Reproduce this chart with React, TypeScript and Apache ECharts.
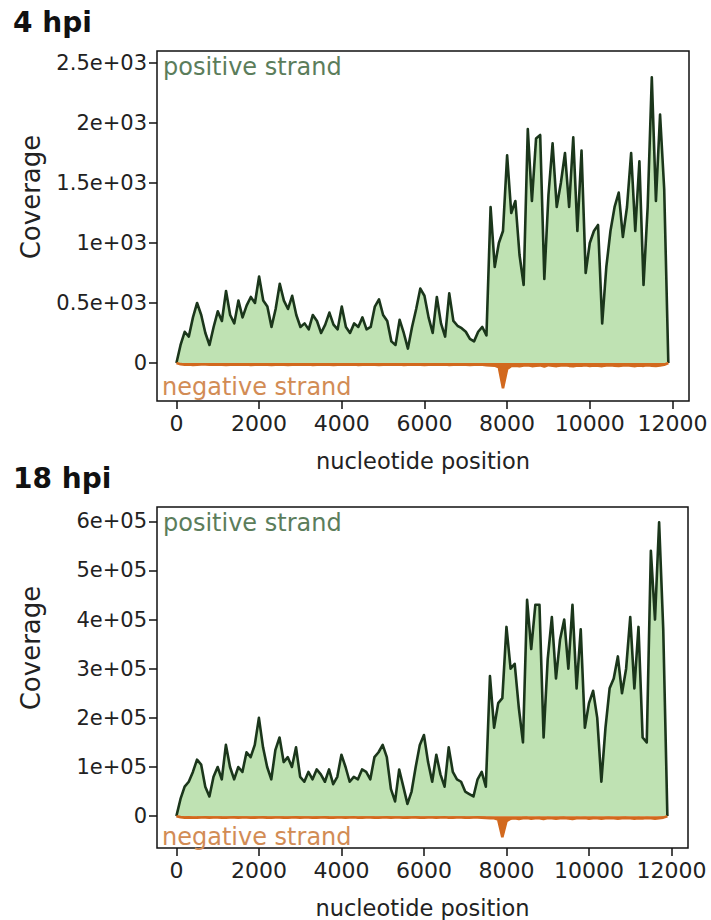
import React, { useEffect, useRef } from "react";
import * as echarts from "echarts";

// nucleotide positions sampled every 100 nt (0 .. 11900)
const STEP = 100;

const X_TICKS = [0, 2000, 4000, 6000, 8000, 10000, 12000];
const Y1_TICKS = [0, 500, 1000, 1500, 2000, 2500];
const Y1_LABELS = ["0", "0.5e+03", "1e+03", "1.5e+03", "2e+03", "2.5e+03"];
const Y2_TICKS = [0, 100000, 200000, 300000, 400000, 500000, 600000];
const Y2_LABELS = ["0", "1e+05", "2e+05", "3e+05", "4e+05", "5e+05", "6e+05"];

// 4 hpi positive strand coverage
const POS_4HPI = [
  0, 150, 260, 220, 380, 500, 400, 250, 150, 300,
  430, 350, 600, 400, 330, 520, 380, 480, 550, 500,
  720, 520, 470, 300, 450, 660, 520, 450, 560, 400,
  300, 330, 280, 400, 350, 250, 320, 420, 320, 280,
  470, 300, 250, 330, 300, 380, 280, 300, 470, 530,
  400, 350, 180, 150, 360, 250, 120, 300, 450, 620,
  560, 380, 250, 550, 330, 220, 580, 350, 310, 290,
  260, 200, 180, 260, 300, 230, 1300, 800, 1000, 1100,
  1730, 1250, 1350, 900, 650, 1950, 1350, 1870, 1900, 700,
  1400, 1830, 1300, 1500, 1750, 1300, 1880, 1100, 1770, 750,
  1000, 1100, 1150, 330, 800, 1100, 1300, 1420, 1050, 1300,
  1750, 1100, 1680, 650, 1300, 2380, 1350, 2070, 1450, 0,
];

// 4 hpi negative strand coverage (plotted below zero)
const NEG_4HPI = [
  0, -10, -14, -12, -16, -15, -13, -12, -15, -14,
  -13, -15, -16, -14, -12, -15, -14, -13, -16, -15,
  -14, -12, -15, -16, -14, -13, -15, -16, -14, -12,
  -15, -14, -13, -16, -15, -14, -12, -15, -16, -14,
  -13, -15, -14, -12, -16, -15, -14, -13, -15, -16,
  -14, -12, -15, -14, -13, -16, -15, -14, -12, -15,
  -16, -14, -13, -15, -14, -12, -16, -15, -14, -13,
  -15, -16, -14, -12, -15, -18, -20, -22, -35, -210,
  -50, -25, -22, -28, -20, -18, -26, -22, -20, -30,
  -18, -22, -26, -20, -18, -24, -28, -20, -22, -18,
  -25, -20, -22, -26, -20, -18, -22, -25, -20, -18,
  -22, -26, -20, -24, -18, -22, -25, -20, -15, 0,
];

// 18 hpi positive strand coverage
const POS_18HPI = [
  0, 35000, 60000, 70000, 90000, 115000, 105000, 60000, 40000, 80000,
  100000, 75000, 145000, 100000, 75000, 100000, 90000, 130000, 120000, 145000,
  200000, 140000, 100000, 75000, 135000, 160000, 110000, 120000, 100000, 140000,
  80000, 70000, 90000, 75000, 95000, 85000, 70000, 95000, 65000, 80000,
  125000, 100000, 70000, 80000, 75000, 95000, 90000, 75000, 120000, 130000,
  145000, 120000, 55000, 30000, 95000, 60000, 25000, 50000, 100000, 145000,
  165000, 110000, 70000, 125000, 85000, 60000, 140000, 90000, 75000, 70000,
  50000, 45000, 40000, 75000, 90000, 60000, 285000, 180000, 230000, 240000,
  385000, 300000, 310000, 220000, 150000, 440000, 340000, 430000, 430000, 160000,
  320000, 405000, 280000, 360000, 400000, 300000, 430000, 260000, 380000, 180000,
  230000, 255000, 200000, 70000, 180000, 260000, 280000, 325000, 250000, 300000,
  405000, 260000, 385000, 160000, 150000, 540000, 400000, 598000, 380000, 0,
];

// 18 hpi negative strand coverage
const NEG_18HPI = [
  0, -2000, -3000, -2500, -3200, -3000, -2600, -2400, -3000, -2800,
  -2600, -3000, -3200, -2800, -2400, -3000, -2800, -2600, -3200, -3000,
  -2800, -2400, -3000, -3200, -2800, -2600, -3000, -3200, -2800, -2400,
  -3000, -2800, -2600, -3200, -3000, -2800, -2400, -3000, -3200, -2800,
  -2600, -3000, -2800, -2400, -3200, -3000, -2800, -2600, -3000, -3200,
  -2800, -2400, -3000, -2800, -2600, -3200, -3000, -2800, -2400, -3000,
  -3200, -2800, -2600, -3000, -2800, -2400, -3200, -3000, -2800, -2600,
  -3000, -3200, -2800, -2400, -3000, -3600, -4000, -4400, -7000, -43000,
  -10000, -5000, -4400, -5600, -4000, -3600, -5200, -4400, -4000, -6000,
  -3600, -4400, -5200, -4000, -3600, -4800, -5600, -4000, -4400, -3600,
  -5000, -4000, -4400, -5200, -4000, -3600, -4400, -5000, -4000, -3600,
  -4400, -5200, -4000, -4800, -3600, -4400, -5000, -4000, -3000, 0,
];

const FONT = "DejaVu Sans";

function pairs(values: number[]) {
  return values.map((v, i) => [i * STEP, v]);
}

function labelFor(ticks: number[], labels: string[]) {
  return (v: number) => {
    const i = ticks.indexOf(v);
    return i >= 0 ? labels[i] : "";
  };
}

function xAxisCfg(gridIndex: number) {
  return {
    gridIndex,
    type: "value",
    min: -470,
    max: 12400,
    axisLine: { show: false, onZero: false },
    splitLine: { show: false },
    axisTick: {
      show: true,
      inside: false,
      length: 8,
      customValues: X_TICKS,
      lineStyle: { color: "#111", width: 1.5 },
    },
    axisLabel: {
      customValues: X_TICKS,
      margin: 11,
      fontFamily: FONT,
      fontSize: 22,
      color: "#222",
      formatter: (v: number) => String(v),
    },
    name: "nucleotide position",
    nameLocation: "middle",
    nameGap: 48,
    nameTextStyle: { fontFamily: FONT, fontSize: 22.5, color: "#222" },
  };
}

function yAxisCfg(gridIndex: number, min: number, max: number, ticks: number[], labels: string[]) {
  return {
    gridIndex,
    type: "value",
    min,
    max,
    axisLine: { show: false, onZero: false },
    splitLine: { show: false },
    axisTick: {
      show: true,
      inside: false,
      length: 8,
      customValues: ticks,
      lineStyle: { color: "#111", width: 1.5 },
    },
    axisLabel: {
      customValues: ticks,
      margin: 10,
      fontFamily: FONT,
      fontSize: 21,
      color: "#222",
      formatter: labelFor(ticks, labels),
    },
  };
}

function posSeries(idx: number, values: number[]) {
  return {
    type: "line",
    xAxisIndex: idx,
    yAxisIndex: idx,
    data: pairs(values),
    symbol: "none",
    showSymbol: false,
    silent: true,
    lineStyle: { color: "#1b361b", width: 2.6, join: "round" },
    areaStyle: { color: "#bfe2b3", opacity: 1 },
    z: 2,
  };
}

function negSeries(idx: number, values: number[]) {
  return {
    type: "line",
    xAxisIndex: idx,
    yAxisIndex: idx,
    data: pairs(values),
    symbol: "none",
    showSymbol: false,
    silent: true,
    lineStyle: { color: "#d2691e", width: 2.6 },
    areaStyle: { color: "#d2691e", opacity: 1 },
    z: 3,
  };
}

function text(x: number, y: number, t: string, size: number, color: string, extra: any = {}) {
  return {
    type: "text",
    x,
    y,
    silent: true,
    ...extra,
    style: {
      text: t,
      fontFamily: FONT,
      fontSize: size,
      fontWeight: extra.bold ? "bold" : "normal",
      fill: color,
      align: extra.align || "left",
      verticalAlign: "middle",
      textAlign: extra.align || "left",
      textVerticalAlign: "middle",
    },
  };
}

export default function App() {
  const ref = useRef<HTMLDivElement>(null);

  useEffect(() => {
    if (!ref.current) return;
    const chart = echarts.init(ref.current, undefined, { renderer: "svg" });
    chart.setOption({
      animation: false,
      backgroundColor: "#ffffff",
      grid: [
        { left: 157, top: 51, width: 532, height: 350, show: true, borderColor: "#111", borderWidth: 1.5, backgroundColor: "transparent" },
        { left: 157, top: 507, width: 531, height: 350, show: true, borderColor: "#111", borderWidth: 1.5, backgroundColor: "transparent" },
      ],
      xAxis: [xAxisCfg(0), xAxisCfg(1)],
      yAxis: [
        yAxisCfg(0, -317, 2600, Y1_TICKS, Y1_LABELS),
        yAxisCfg(1, -64800, 629000, Y2_TICKS, Y2_LABELS),
      ],
      series: [
        posSeries(0, POS_4HPI),
        negSeries(0, NEG_4HPI),
        posSeries(1, POS_18HPI),
        negSeries(1, NEG_18HPI),
      ],
      graphic: [
        text(13, 22, "4 hpi", 28, "#111", { bold: true }),
        text(13, 478, "18 hpi", 28, "#111", { bold: true }),
        text(31, 197, "Coverage", 26, "#222", { rotation: Math.PI / 2, align: "center" }),
        text(31, 648, "Coverage", 26, "#222", { rotation: Math.PI / 2, align: "center" }),
        text(163, 66.7, "positive strand", 24, "#5b7d5b"),
        text(163, 522.7, "positive strand", 24, "#5b7d5b"),
        text(162, 386.7, "negative strand", 24, "#d28c55"),
        text(162, 836.7, "negative strand", 24, "#d28c55"),
      ],
    });
    return () => chart.dispose();
  }, []);

  return (
    <div
      ref={ref}
      style={{ position: "absolute", left: 0, top: 0, width: 711, height: 920 }}
    />
  );
}
